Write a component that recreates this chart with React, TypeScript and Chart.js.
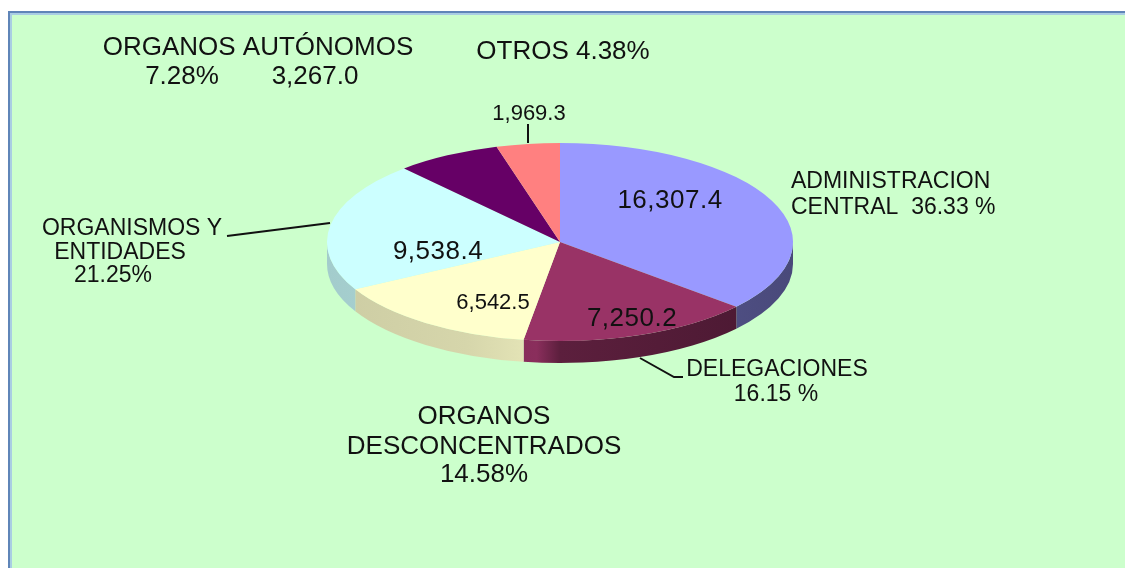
import React, { useEffect, useRef } from "react";
import { Chart, registerables } from "chart.js";

Chart.register(...registerables);

// ---- data ----
const categories = [
  "ADMINISTRACION CENTRAL",
  "DELEGACIONES",
  "ORGANOS DESCONCENTRADOS",
  "ORGANISMOS Y ENTIDADES",
  "ORGANOS AUTÓNOMOS",
  "OTROS",
];
const values = [16307.4, 7250.2, 6542.5, 9538.4, 3267.0, 1969.3];
const valueLabels = ["16,307.4", "7,250.2", "6,542.5", "9,538.4", "3,267.0", "1,969.3"];
const percentLabels = ["36.33 %", "16.15 %", "14.58%", "21.25%", "7.28%", "4.38%"];
const sliceColors = ["#9999FF", "#993366", "#FFFFCC", "#CCFFFF", "#660066", "#FF8080"];

// ---- look ----
const TILT = 0.425;
const DEPTH = 22;
const FONT = '"Liberation Sans", Arial, sans-serif';
const TEXT = "#111111";

function shade(hex: string, f: number) {
  const n = parseInt(hex.slice(1), 16);
  const r = Math.round(((n >> 16) & 255) * f);
  const g = Math.round(((n >> 8) & 255) * f);
  const b = Math.round((n & 255) * f);
  return `rgb(${r},${g},${b})`;
}

const pie3d = {
  id: "pie3d",
  beforeDatasetsDraw(chart: any) {
    const arcs = chart.getDatasetMeta(0).data;
    if (!arcs.length) return;
    const { x: cx, y: cy, outerRadius: R } = arcs[0].getProps(["x", "y", "outerRadius"], true);
    const ctx = chart.ctx as CanvasRenderingContext2D;
    arcs.forEach((arc: any, i: number) => {
      const { startAngle, endAngle } = arc.getProps(["startAngle", "endAngle"], true);
      const a = Math.max(startAngle, 0);
      const b = Math.min(endAngle, Math.PI);
      if (b <= a) return;
      const base = sliceColors[i];
      const g = ctx.createLinearGradient(cx - R, 0, cx + R, 0);
      g.addColorStop(0, shade(base, 0.8));
      g.addColorStop(0.3, shade(base, 0.84));
      g.addColorStop(0.45, shade(base, 0.9));
      g.addColorStop(0.5, shade(base, 0.6));
      g.addColorStop(1, shade(base, 0.48));
      ctx.save();
      ctx.beginPath();
      ctx.ellipse(cx, cy, R, R * TILT, 0, a, b, false);
      ctx.ellipse(cx, cy + DEPTH, R, R * TILT, 0, b, a, true);
      ctx.closePath();
      ctx.fillStyle = g;
      ctx.fill();
      ctx.restore();
    });
    ctx.save();
    ctx.translate(0, cy);
    ctx.scale(1, TILT);
    ctx.translate(0, -cy);
  },
  afterDatasetsDraw(chart: any) {
    chart.ctx.restore();
  },
  afterDraw(chart: any) {
    const ctx = chart.ctx as CanvasRenderingContext2D;
    const text = (s: string, x: number, y: number, size: number, align: CanvasTextAlign = "center", spacing = "0px") => {
      ctx.save();
      ctx.font = `${size}px ${FONT}`;
      (ctx as any).letterSpacing = spacing;
      ctx.fillStyle = TEXT;
      ctx.textAlign = align;
      ctx.textBaseline = "middle";
      ctx.fillText(s, x, y);
      ctx.restore();
    };
    const line = (pts: number[][]) => {
      ctx.save();
      ctx.strokeStyle = "#111";
      ctx.lineWidth = 2;
      ctx.beginPath();
      pts.forEach(([x, y], i) => (i ? ctx.lineTo(x, y) : ctx.moveTo(x, y)));
      ctx.stroke();
      ctx.restore();
    };

    // values inside slices
    text(valueLabels[0], 670, 201, 26, "center", "0.5px");
    text(valueLabels[1], 632, 319, 26, "center", "0.5px");
    text(valueLabels[2], 493, 303, 22);
    text(valueLabels[3], 438, 252, 26, "center", "0.5px");

    // ORGANOS AUTONOMOS
    text(categories[4], 258, 48, 26);
    text(percentLabels[4], 182, 77, 26);
    text(valueLabels[4], 315, 77, 26);

    // OTROS
    text(`${categories[5]} ${percentLabels[5]}`, 563, 52, 26);
    text(valueLabels[5], 529, 114, 22);
    line([[528, 124], [528, 143]]);

    // ADMINISTRACION CENTRAL
    text("ADMINISTRACION", 791, 182, 23, "left");
    text(`CENTRAL  ${percentLabels[0]}`, 791, 208, 23, "left");

    // ORGANISMOS Y ENTIDADES
    text("ORGANISMOS Y", 132, 229, 23);
    text("ENTIDADES", 120, 253, 23);
    text(percentLabels[3], 113, 276, 23);
    line([[227, 236], [330, 223]]);

    // DELEGACIONES
    text(categories[1], 777, 370, 23);
    text(percentLabels[1], 776, 395, 23);
    line([[640, 358], [674, 377], [683, 377]]);

    // ORGANOS DESCONCENTRADOS
    text("ORGANOS", 484, 417, 26);
    text("DESCONCENTRADOS", 484, 447, 26);
    text(percentLabels[2], 484, 475, 26);
  },
};

export default function App() {
  const ref = useRef<HTMLCanvasElement | null>(null);
  useEffect(() => {
    if (!ref.current) return;
    const chart = new Chart(ref.current, {
      type: "pie",
      data: {
        labels: categories,
        datasets: [
          {
            data: values,
            backgroundColor: sliceColors,
            borderWidth: 0,
          },
        ],
      },
      options: {
        responsive: false,
        animation: false,
        layout: { padding: { left: 327, right: 332, top: 9, bottom: 93 } },
        plugins: { legend: { display: false }, tooltip: { enabled: false } },
      },
      plugins: [pie3d],
    });
    return () => chart.destroy();
  }, []);

  return (
    <div style={{ position: "fixed", left: 0, top: 0, width: 1125, height: 568, background: "#ffffff", overflow: "hidden" }}>
      <div
        style={{
          position: "absolute",
          left: 8,
          top: 11,
          width: 1140,
          height: 580,
          background: "#CCFFCC",
          borderTop: "2px solid #5F85B8",
          borderLeft: "2px solid #5F85B8",
          boxShadow: "inset 2px 2px 0 #A9CDE3",
        }}
      />
      <canvas ref={ref} width={1125} height={568} style={{ position: "absolute", left: 0, top: 0 }} />
    </div>
  );
}
